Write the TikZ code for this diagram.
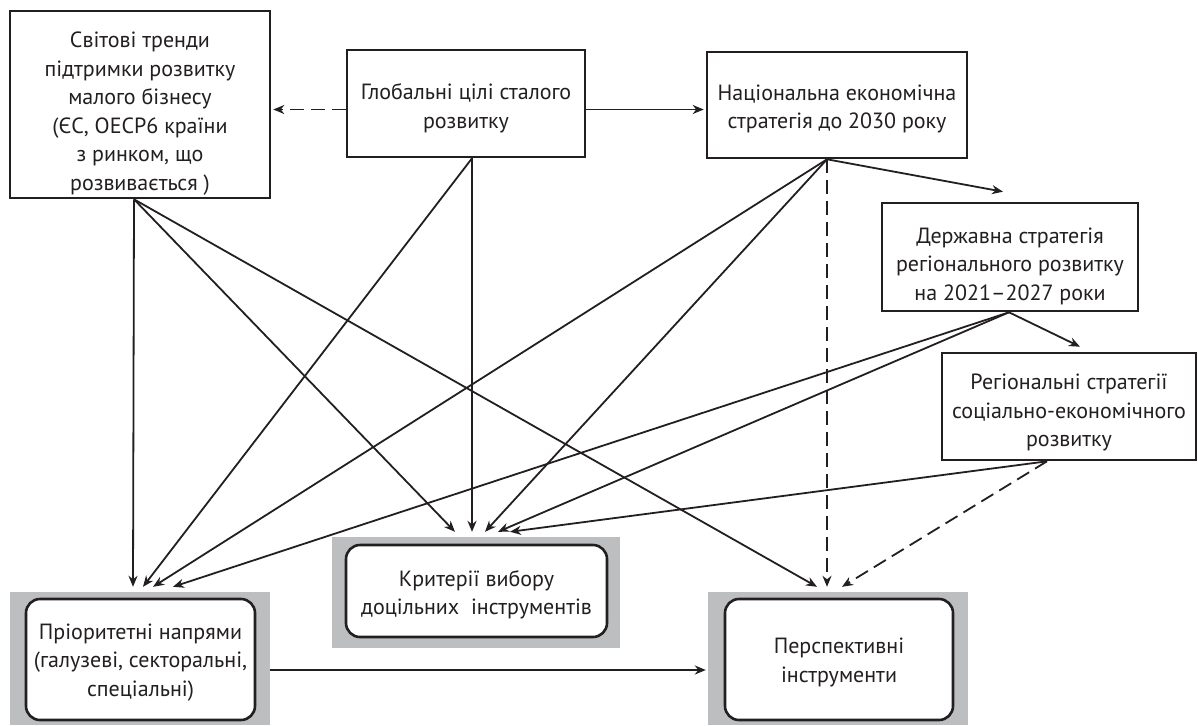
\documentclass[tikz,border=0pt]{standalone}
\usepackage{fontspec}
\setmainfont{PT Sans}
\usetikzlibrary{arrows.meta}
\definecolor{ink}{HTML}{231F20}
\definecolor{panel}{HTML}{BCBEC0}
\tikzset{
  box/.style={draw=ink, line width=2.6pt, fill=white, inner sep=0pt},
  roundbox/.style={box, rounded corners=14pt},
  txt/.style={align=center, inner sep=0pt, font=\fontsize{22}{28.5}\selectfont, text=ink},
  panelbox/.style={fill=panel, inner sep=0pt},
  arr/.style={draw=ink, line width=1.8pt, -{Stealth[length=11pt,width=9pt,inset=3.5pt]}},
  dasharr/.style={arr, dash pattern=on 14pt off 7pt},
}
\begin{document}
\begin{tikzpicture}[x=1pt,y=-1pt]
\useasboundingbox (0,0) rectangle (1198,725);
% top boxes
\node[box, minimum width=260pt, minimum height=187pt] (A) at (140,104.5) {};
\node[txt] (At) at ([yshift=-9pt]A.center)
  {Світові тренди\\підтримки розвитку\\малого бізнесу\\(ЄС, ОЕСР6 країни\\з ринком, що\\розвивається )};
\node[box, minimum width=238pt, minimum height=107pt] (B) at (466,103.5) {};
\node[txt] (Bt) at ([yshift=-5pt]B.center) {Глобальні цілі сталого\\розвитку};
\node[box, minimum width=260pt, minimum height=106pt] (C) at (837,105) {};
\node[txt] (Ct) at ([yshift=-4pt]C.center) {Національна економічна\\стратегія до 2030 року};
\node[box, minimum width=256pt, minimum height=108pt] (D) at (1010,257) {};
\node[txt] (Dt) at ([yshift=-9pt]D.center)
  {Державна стратегія\\регіонального розвитку\\на 2021–2027 роки};
\node[box, minimum width=254pt, minimum height=107pt] (E) at (1069,406.5) {};
\node[txt] (Et) at ([yshift=-6pt]E.center)
  {Регіональні стратегії\\соціально-економічного\\розвитку};
% bottom panels
\node[panelbox, minimum width=288pt, minimum height=111pt] (Fg) at (476,592.5) {};
\node[roundbox, minimum width=261pt, minimum height=92pt] (F) at (476.5,591) {};
\node[txt] (Ft) at ([yshift=-4pt]F.center) {Критерії вибору\\доцільних\ \ інструментів};
\node[panelbox, minimum width=260pt, minimum height=133pt] (Gg) at (140,658.5) {};
\node[roundbox, minimum width=229pt, minimum height=121pt] (G) at (140.5,659.5) {};
\node[txt] (Gt) at ([yshift=-3pt]G.center)
  {Пріоритетні напрями\\(галузеві, секторальні,\\спеціальні)};
\node[panelbox, minimum width=260pt, minimum height=133pt] (Hg) at (838,658.5) {};
\node[roundbox, minimum width=228pt, minimum height=121pt] (H) at (839,659.5) {};
\node[txt] (Ht) at ([yshift=-3pt]H.center) {Перспективні\\інструменти};
% top row
\draw[dasharr, shorten >=2pt] ([yshift=-6pt]B.west) -- ([yshift=-6pt]B.west -| A.east);
\draw[arr, shorten >=2pt] ([yshift=-6pt]B.east) -- ([yshift=-6pt]B.east -| C.west);
% from A
\draw[arr] ([xshift=-6pt]A.south) -- ([xshift=-7pt,yshift=5pt]Gg.north);
\draw[arr] ([xshift=-6pt]A.south) -- ([xshift=-21pt,yshift=5pt]Fg.north);
\draw[arr] ([xshift=-6pt]A.south) -- ([xshift=-21pt,yshift=5pt]Hg.north);
% from B
\draw[arr] ([xshift=6pt]B.south) -- ([xshift=3pt,yshift=5pt]Gg.north);
\draw[arr] ([xshift=6pt]B.south) -- ([xshift=-4pt,yshift=5pt]Fg.north);
% from C
\draw[arr] ([xshift=-10pt]C.south) -- ([xshift=13pt,yshift=5pt]Gg.north);
\draw[arr] ([xshift=-10pt]C.south) -- ([xshift=9pt,yshift=5pt]Fg.north);
\draw[dasharr] ([xshift=-10pt]C.south) -- ([xshift=-11pt,yshift=5pt]Hg.north);
\draw[arr] ([xshift=-10pt]C.south) -- ([xshift=-7pt,yshift=10pt]D.north);
% from D
\draw[arr] ([xshift=-1pt]D.south) -- ([xshift=11pt,yshift=5pt]E.north);
\draw[arr] ([xshift=-1pt]D.south) -- ([xshift=33pt,yshift=5pt]Gg.north);
\draw[arr] ([xshift=-1pt]D.south) -- ([xshift=22pt,yshift=5pt]Fg.north);
% from E
\draw[arr] ([xshift=-22pt]E.south) -- ([xshift=34pt,yshift=5pt]Fg.north);
\draw[dasharr] ([xshift=-22pt]E.south) -- ([xshift=4pt,yshift=5pt]Hg.north);
% bottom
\draw[arr, shorten >=2pt] ([yshift=-11.5pt]Gg.east) -- ([yshift=-11.5pt]Gg.east -| Hg.west);
\end{tikzpicture}
\end{document}
